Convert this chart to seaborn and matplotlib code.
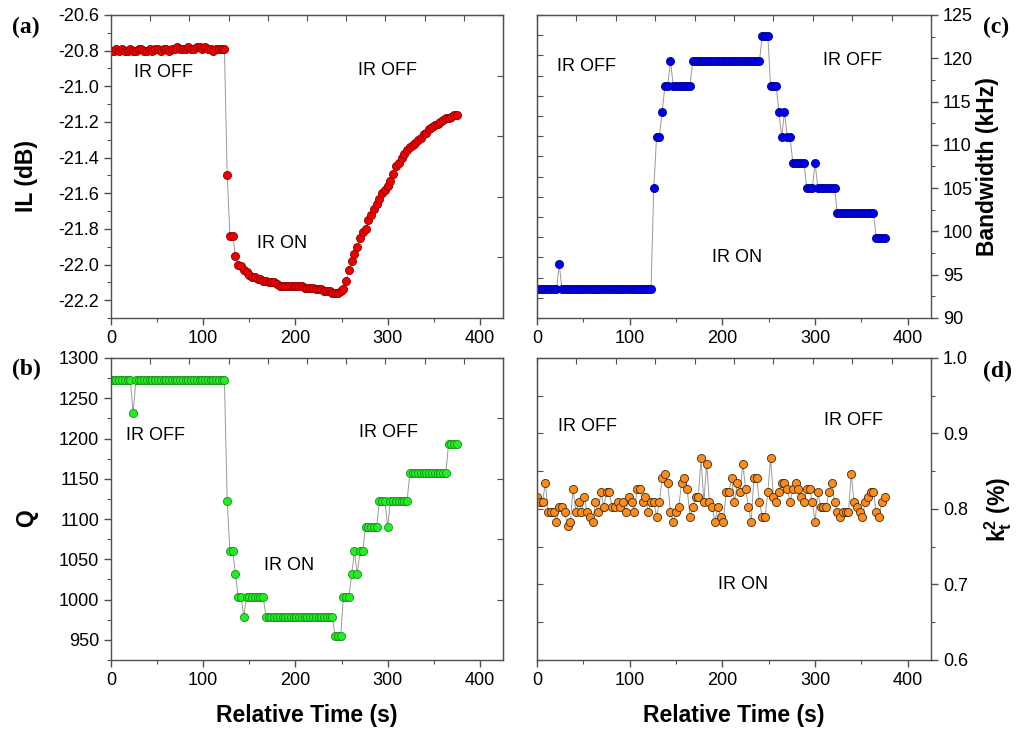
##################################################################################
# IR response of resonator: IL, Q, bandwidth and kt2 versus relative time
##################################################################################
import matplotlib
matplotlib.use('Agg')
import matplotlib.pyplot as plt
from matplotlib.ticker import MultipleLocator, FormatStrFormatter
import seaborn as sns
import numpy as np

##################################################################################
# DATA (one sample every ~3 s)
##################################################################################
time_s = np.arange(0, 376, 3)

il_db = [
    -20.80, -20.80, -20.79, -20.80, -20.79, -20.80, -20.80, -20.79, -20.80, -20.80,
    -20.79, -20.79, -20.80, -20.80, -20.79, -20.80, -20.79, -20.79, -20.80, -20.79,
    -20.79, -20.80, -20.79, -20.79, -20.78, -20.79, -20.79, -20.79, -20.78, -20.79,
    -20.79, -20.78, -20.78, -20.79, -20.78, -20.79, -20.79, -20.80, -20.79, -20.79,
    -20.79, -20.79, -21.50, -21.84, -21.84, -21.95, -22.00, -22.01, -22.03, -22.04,
    -22.06, -22.07, -22.07, -22.08, -22.08, -22.09, -22.09, -22.10, -22.10, -22.10,
    -22.11, -22.12, -22.12, -22.12, -22.12, -22.12, -22.12, -22.12, -22.12, -22.12,
    -22.13, -22.13, -22.13, -22.13, -22.14, -22.14, -22.14, -22.15, -22.15, -22.15,
    -22.16, -22.16, -22.16, -22.15, -22.14, -22.09, -22.03, -21.98, -21.94, -21.90,
    -21.85, -21.82, -21.80, -21.75, -21.72, -21.69, -21.66, -21.63, -21.60, -21.58,
    -21.56, -21.53, -21.49, -21.45, -21.43, -21.40, -21.38, -21.36, -21.34, -21.33,
    -21.32, -21.30, -21.29, -21.27, -21.26, -21.24, -21.23, -21.22, -21.21, -21.20,
    -21.19, -21.18, -21.18, -21.17, -21.16, -21.16,
]

bandwidth_khz = [
    93.3, 93.3, 93.3, 93.3, 93.3, 93.3, 93.3, 93.3, 96.2, 93.3,
    93.3, 93.3, 93.3, 93.3, 93.3, 93.3, 93.3, 93.3, 93.3, 93.3,
    93.3, 93.3, 93.3, 93.3, 93.3, 93.3, 93.3, 93.3, 93.3, 93.3,
    93.3, 93.3, 93.3, 93.3, 93.3, 93.3, 93.3, 93.3, 93.3, 93.3,
    93.3, 93.3, 105.0, 110.9, 110.9, 113.8, 116.8, 116.8, 119.7, 116.8,
    116.8, 116.8, 116.8, 116.8, 116.8, 116.8, 119.7, 119.7, 119.7, 119.7,
    119.7, 119.7, 119.7, 119.7, 119.7, 119.7, 119.7, 119.7, 119.7, 119.7,
    119.7, 119.7, 119.7, 119.7, 119.7, 119.7, 119.7, 119.7, 119.7, 119.7,
    119.7, 122.6, 122.6, 122.6, 116.8, 116.8, 116.8, 113.8, 110.9, 113.8,
    110.9, 110.9, 107.9, 107.9, 107.9, 107.9, 107.9, 105.0, 105.0, 105.0,
    107.9, 105.0, 105.0, 105.0, 105.0, 105.0, 105.0, 105.0, 102.1, 102.1,
    102.1, 102.1, 102.1, 102.1, 102.1, 102.1, 102.1, 102.1, 102.1, 102.1,
    102.1, 102.1, 99.2, 99.2, 99.2, 99.2,
]

q_factor = [
    1272.3, 1272.3, 1272.3, 1272.3, 1272.3, 1272.3, 1272.3, 1272.3, 1231.4, 1272.3,
    1272.3, 1272.3, 1272.3, 1272.3, 1272.3, 1272.3, 1272.3, 1272.3, 1272.3, 1272.3,
    1272.3, 1272.3, 1272.3, 1272.3, 1272.3, 1272.3, 1272.3, 1272.3, 1272.3, 1272.3,
    1272.3, 1272.3, 1272.3, 1272.3, 1272.3, 1272.3, 1272.3, 1272.3, 1272.3, 1272.3,
    1272.3, 1272.3, 1122.3, 1060.3, 1060.3, 1031.4, 1003.7, 1003.7, 979.0, 1003.7,
    1003.7, 1003.7, 1003.7, 1003.7, 1003.7, 1003.7, 979.0, 979.0, 979.0, 979.0,
    979.0, 979.0, 979.0, 979.0, 979.0, 979.0, 979.0, 979.0, 979.0, 979.0,
    979.0, 979.0, 979.0, 979.0, 979.0, 979.0, 979.0, 979.0, 979.0, 979.0,
    979.0, 954.2, 954.2, 954.2, 1003.7, 1003.7, 1003.7, 1031.4, 1060.3, 1031.4,
    1060.3, 1060.3, 1090.5, 1090.5, 1090.5, 1090.5, 1090.5, 1122.3, 1122.3, 1122.3,
    1090.5, 1122.3, 1122.3, 1122.3, 1122.3, 1122.3, 1122.3, 1122.3, 1156.6, 1156.6,
    1156.6, 1156.6, 1156.6, 1156.6, 1156.6, 1156.6, 1156.6, 1156.6, 1156.6, 1156.6,
    1156.6, 1156.6, 1193.0, 1193.0, 1193.0, 1193.0,
]

kt2_pct = [
    0.816, 0.809, 0.809, 0.835, 0.796, 0.796, 0.796, 0.783, 0.803, 0.803,
    0.796, 0.777, 0.783, 0.827, 0.796, 0.809, 0.796, 0.816, 0.796, 0.790,
    0.783, 0.809, 0.796, 0.822, 0.803, 0.822, 0.822, 0.803, 0.803, 0.809,
    0.803, 0.809, 0.796, 0.816, 0.809, 0.796, 0.827, 0.827, 0.809, 0.816,
    0.796, 0.809, 0.809, 0.790, 0.809, 0.841, 0.847, 0.835, 0.796, 0.783,
    0.796, 0.803, 0.835, 0.841, 0.827, 0.790, 0.803, 0.816, 0.816, 0.867,
    0.809, 0.860, 0.809, 0.803, 0.783, 0.803, 0.790, 0.783, 0.822, 0.822,
    0.841, 0.809, 0.835, 0.822, 0.860, 0.827, 0.803, 0.783, 0.841, 0.841,
    0.809, 0.790, 0.790, 0.822, 0.867, 0.816, 0.809, 0.822, 0.835, 0.835,
    0.827, 0.809, 0.827, 0.835, 0.827, 0.816, 0.809, 0.827, 0.827, 0.809,
    0.783, 0.822, 0.803, 0.803, 0.803, 0.822, 0.835, 0.809, 0.796, 0.790,
    0.796, 0.796, 0.796, 0.847, 0.809, 0.803, 0.796, 0.790, 0.809, 0.816,
    0.822, 0.822, 0.796, 0.790, 0.809, 0.816,
]

# "IR OFF"/"IR ON" annotation anchors (time, value) per panel
notes_a = [('IR OFF', 57, -20.92), ('IR OFF', 300, -20.91), ('IR ON', 185, -21.88)]
notes_b = [('IR OFF', 48, 1204), ('IR OFF', 301, 1208), ('IR ON', 193, 1042)]
notes_c = [('IR OFF', 53, 119.0), ('IR OFF', 340, 119.7), ('IR ON', 216, 97.0)]
notes_d = [('IR OFF', 55, 0.9095), ('IR OFF', 341, 0.917), ('IR ON', 222, 0.700)]

##################################################################################
# STYLE
##################################################################################
sns.set_style('ticks')
plt.rcParams['font.family'] = ['Liberation Sans', 'DejaVu Sans']
plt.rcParams['text.color'] = 'black'
plt.rcParams['axes.labelcolor'] = 'black'
plt.rcParams['axes.unicode_minus'] = False
plt.rcParams['mathtext.fontset'] = 'custom'
plt.rcParams['mathtext.rm'] = 'Liberation Sans'
plt.rcParams['mathtext.bf'] = 'Liberation Sans:bold'

SPINE = '#505050'
LINE = '#9a9a9a'
TICK_FS = 13
LAB_FS = 16.5
NOTE_FS = 13
XLIM = (0, 425)

fig = plt.figure(figsize=(10.18, 7.30), dpi=100)

ax_a = fig.add_axes([0.1090, 0.5644, 0.3851, 0.4151])
ax_c = fig.add_axes([0.5275, 0.5644, 0.3870, 0.4151])
ax_b = fig.add_axes([0.1090, 0.0959, 0.3851, 0.4137])
ax_d = fig.add_axes([0.5275, 0.0959, 0.3870, 0.4137])


def draw_series(ax, y, fill, edge):
    sns.lineplot(x=time_s, y=y, ax=ax, color=LINE, lw=0.7, zorder=1)
    sns.scatterplot(x=time_s, y=y, ax=ax, color=fill, edgecolor=edge,
                    s=34, linewidth=0.6, zorder=2)


def style_axes(ax, ylim, ymajor, yminor, yfmt, side, inner_ticks):
    ax.set_xlim(*XLIM)
    ax.set_ylim(*ylim)
    ax.xaxis.set_major_locator(MultipleLocator(100))
    ax.xaxis.set_minor_locator(MultipleLocator(50))
    ax.yaxis.set_major_locator(MultipleLocator(ymajor))
    ax.yaxis.set_minor_locator(MultipleLocator(yminor))
    ax.yaxis.set_major_formatter(FormatStrFormatter(yfmt))
    for s in ax.spines.values():
        s.set_color(SPINE)
        s.set_linewidth(1.0)
        s.set_visible(True)
    ax.tick_params(which='both', direction='out', colors=SPINE,
                   labelcolor='black', labelsize=TICK_FS)
    ax.tick_params(which='major', length=5, width=1.0)
    ax.tick_params(which='minor', length=3, width=0.8)
    if side == 'right':
        ax.yaxis.tick_right()
        ax.yaxis.set_label_position('right')
    # Origin style inner ticks on the opposite side and on top
    top = ax.secondary_xaxis('top')
    top.set_xticks(np.linspace(XLIM[0], XLIM[1], 11))
    top.tick_params(direction='in', length=4, width=0.8, colors=SPINE,
                    labeltop=False)
    top.spines['top'].set_color(SPINE)
    other = ax.secondary_yaxis('left' if side == 'right' else 'right')
    other.set_yticks(np.linspace(ylim[0], ylim[1], inner_ticks + 1))
    other.tick_params(direction='in', length=4, width=0.8, colors=SPINE,
                      labelleft=False, labelright=False)
    for s in other.spines.values():
        s.set_color(SPINE)
    ax.set_xlabel('')
    ax.set_ylabel('')


def add_notes(ax, notes):
    for txt, x, y in notes:
        ax.text(x, y, txt, fontsize=NOTE_FS, ha='center', va='center',
                color='black')


##################################################################################
# PANELS
##################################################################################
draw_series(ax_a, il_db, '#ee0000', '#8b0000')
style_axes(ax_a, (-22.3, -20.6), 0.2, 0.1, '%.1f', 'left', 5)
add_notes(ax_a, notes_a)
ax_a.set_ylabel('IL (dB)', fontsize=LAB_FS, fontweight='bold')
ax_a.yaxis.set_label_coords(-0.185, 0.47)

draw_series(ax_c, bandwidth_khz, '#0000f0', '#00008b')
style_axes(ax_c, (90, 125), 5, 2.5, '%d', 'right', 15)
add_notes(ax_c, notes_c)
ax_c.set_ylabel('Bandwidth (kHz)', fontsize=LAB_FS, fontweight='bold',
                rotation=90)
ax_c.yaxis.set_label_coords(1.115, 0.5)

draw_series(ax_b, q_factor, '#22ee22', '#1a8a1a')
style_axes(ax_b, (925, 1300), 50, 25, '%d', 'left', 5)
add_notes(ax_b, notes_b)
ax_b.set_ylabel('Q', fontsize=LAB_FS, fontweight='bold')
ax_b.yaxis.set_label_coords(-0.185, 0.47)

draw_series(ax_d, kt2_pct, '#ff8c1a', '#3a2a10')
style_axes(ax_d, (0.6, 1.0), 0.1, 0.05, '%.1f', 'right', 8)
add_notes(ax_d, notes_d)
ax_d.set_ylabel(r'$\mathbf{k_t^2}$ (%)', fontsize=LAB_FS, fontweight='bold',
                rotation=90)
ax_d.yaxis.set_label_coords(1.13, 0.5)

for ax in (ax_b, ax_d):
    ax.set_xlabel('Relative Time (s)', fontsize=LAB_FS, fontweight='bold')
    ax.xaxis.set_label_coords(0.5, -0.145)

# panel tags
tag_kw = dict(fontsize=17, fontweight='bold', family='Liberation Serif',
              ha='center', va='center', color='black')
fig.text(26 / 1018, 1 - 27 / 730, '(a)', **tag_kw)
fig.text(26 / 1018, 1 - 369 / 730, '(b)', **tag_kw)
fig.text(996 / 1018, 1 - 27 / 730, '(c)', **tag_kw)
fig.text(997 / 1018, 1 - 371 / 730, '(d)', **tag_kw)

plt.savefig('out.png', dpi=100)
